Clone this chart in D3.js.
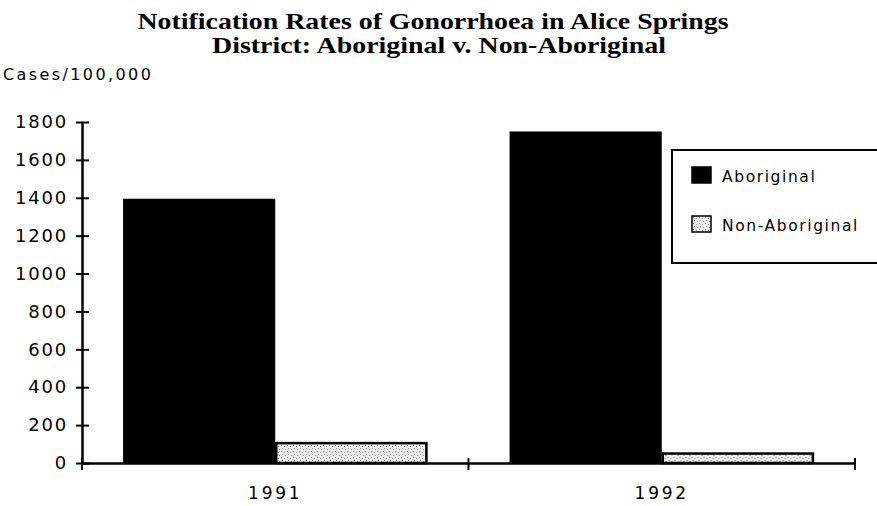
<!DOCTYPE html>
<html>
<head>
<meta charset="utf-8">
<script src="https://cdn.jsdelivr.net/npm/d3@7"></script>
<style>
  body { margin: 0; background: #fff; }
  svg { display: block; }
</style>
</head>
<body>
<svg width="877" height="506"></svg>
<script>
const years = ["1991", "1992"];
const series = ["Aboriginal", "Non-Aboriginal"];
const aboriginal = [1395, 1750];
const nonAboriginal = [105, 50];
const yTicks = [0, 200, 400, 600, 800, 1000, 1200, 1400, 1600, 1800];
const titleLines = [
  "Notification Rates of Gonorrhoea in Alice Springs",
  "District: Aboriginal v. Non-Aboriginal"
];

const svg = d3.select("svg");
const sans = "'DejaVu Sans', sans-serif";

// stipple fill for the non-aboriginal bars
const pat = svg.append("defs").append("pattern")
  .attr("id", "stip")
  .attr("patternUnits", "userSpaceOnUse")
  .attr("width", 6).attr("height", 6);
pat.append("rect").attr("width", 6).attr("height", 6).attr("fill", "#ececec");
[[1, 1], [4, 2], [2, 4], [5, 5]].forEach(([px, py]) =>
  pat.append("rect").attr("x", px).attr("y", py).attr("width", 1).attr("height", 1).attr("fill", "#888"));

const x0 = d3.scaleBand().domain(years).range([82, 855]);
const x1 = d3.scaleBand().domain(series).range([0, x0.bandwidth()]).paddingOuter(0.27);
const y = d3.scaleLinear().domain([0, 1800]).range([463, 122]);

const rows = years.map((yr, i) => ({ year: yr, values: [aboriginal[i], nonAboriginal[i]] }));

// title
svg.append("text")
  .attr("x", 433).attr("y", 29)
  .attr("text-anchor", "middle")
  .style("font-family", "'Liberation Serif', serif")
  .style("font-weight", "bold")
  .style("font-size", "23px")
  .selectAll("tspan")
  .data(titleLines)
  .join("tspan")
  .attr("x", (d, i) => i ? 439 : 433)
  .attr("dy", (d, i) => i ? 24 : 0)
  .attr("textLength", (d, i) => i ? 454 : 591)
  .attr("lengthAdjust", "spacingAndGlyphs")
  .text(d => d);

svg.append("text")
  .attr("x", 3).attr("y", 80)
  .style("font-family", sans)
  .style("font-size", "16px")
  .style("letter-spacing", "2.4px")
  .text("Cases/100,000");

// bars
const g = svg.append("g").selectAll("g")
  .data(rows)
  .join("g")
  .attr("transform", d => `translate(${x0(d.year)},0)`);

g.selectAll("rect")
  .data(d => d.values.map((v, i) => ({ key: series[i], value: v })))
  .join("rect")
  .attr("x", d => x1(d.key) + (d.key === "Aboriginal" ? 0 : 1))
  .attr("width", d => x1.bandwidth() - (d.key === "Aboriginal" ? 0 : 2))
  .attr("y", d => y(d.value))
  .attr("height", d => y(0) - y(d.value))
  .attr("fill", d => d.key === "Aboriginal" ? "#000" : "url(#stip)")
  .attr("stroke", "#000")
  .attr("stroke-width", d => d.key === "Aboriginal" ? 0 : 2.5);

// y axis
const yAxis = svg.append("g")
  .attr("transform", "translate(82,0)")
  .call(d3.axisLeft(y).tickValues(yTicks).tickFormat(d3.format("d"))
    .tickSizeInner(6).tickSizeOuter(0).tickPadding(8));
yAxis.select(".domain").attr("stroke-width", 2.5);
yAxis.selectAll(".tick line").attr("x1", 7).attr("stroke-width", 2);
yAxis.selectAll(".tick text")
  .style("font-family", sans)
  .style("font-size", "18px")
  .style("letter-spacing", "1.8px")
  .attr("fill", "#000");

// x axis
const xAxis = svg.append("g")
  .attr("transform", "translate(0,463)")
  .call(d3.axisBottom(x0).tickSize(0).tickPadding(24));
xAxis.select(".domain").attr("stroke-width", 2.5);
xAxis.selectAll(".tick text")
  .style("font-family", sans)
  .style("font-size", "17px")
  .style("letter-spacing", "2.8px")
  .attr("fill", "#000");
xAxis.selectAll(".sep")
  .data(x0.range().concat([x0(years[1])]))
  .join("line")
  .attr("class", "sep")
  .attr("x1", d => d).attr("x2", d => d)
  .attr("y1", -5).attr("y2", 7)
  .attr("stroke", "#000")
  .attr("stroke-width", 2);

// legend
const leg = svg.append("g").attr("transform", "translate(672,150)");
leg.append("rect")
  .attr("width", 215).attr("height", 113)
  .attr("fill", "#fff").attr("stroke", "#000").attr("stroke-width", 2);
const item = leg.selectAll(".item")
  .data(series)
  .join("g")
  .attr("class", "item")
  .attr("transform", (d, i) => `translate(20,${17 + i * 49})`);
item.append("rect")
  .attr("width", 19).attr("height", 16)
  .attr("fill", d => d === "Aboriginal" ? "#000" : "url(#stip)")
  .attr("stroke", "#000").attr("stroke-width", 1.5);
item.append("text")
  .attr("x", 30).attr("y", 15)
  .style("font-family", sans)
  .style("font-size", "15.5px")
  .style("letter-spacing", "1.6px")
  .text(d => d);
</script>
</body>
</html>
